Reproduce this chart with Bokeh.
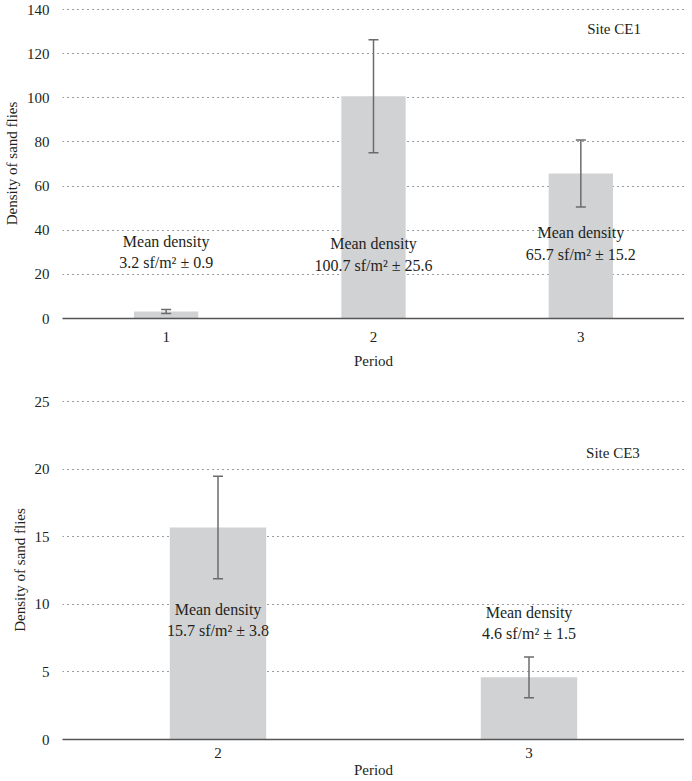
from bokeh.plotting import figure
from bokeh.layouts import column
from bokeh.models import Range1d, FixedTicker, Whisker, TeeHead, ColumnDataSource
from bokeh.core.properties import value
from bokeh.embed import file_html
from bokeh.resources import INLINE

# ---- data ----
periods_ce1 = [1, 2, 3]
mean_ce1 = [3.2, 100.7, 65.7]
err_ce1 = [0.9, 25.6, 15.2]
yticks_ce1 = [0, 20, 40, 60, 80, 100, 120, 140]

periods_ce3 = [2, 3]
mean_ce3 = [15.7, 4.6]
err_ce3 = [3.8, 1.5]
yticks_ce3 = [0, 5, 10, 15, 20, 25]

site_ce1 = "Site CE1"
site_ce3 = "Site CE3"
x_title = "Period"
y_title = "Density of sand flies"

# annotation placement (data units)
label_y_ce1 = [30.1, 29.0, 34.0]
label_y_ce3 = [8.85, 8.6]

FONT = "Liberation Serif"
TXT = "#231f20"
BAR = "#d1d2d4"
ERR = "#6a6b6d"


def make(periods, means, errs, yticks, xr, y_end, label_y, site, site_xy,
         height, top, bottom):
    p = figure(width=684, height=height, output_backend="svg",
               toolbar_location=None, x_range=Range1d(*xr),
               y_range=Range1d(yticks[0], y_end),
               min_border_left=51, min_border_right=0,
               min_border_top=top, min_border_bottom=bottom)
    p.outline_line_color = None
    p.background_fill_color = "white"
    p.border_fill_color = "white"

    src = ColumnDataSource(dict(
        x=periods, m=means,
        upper=[m + e for m, e in zip(means, errs)],
        lower=[m - e for m, e in zip(means, errs)],
        ly=label_y,
        lab=[f"Mean density\n{m} sf/m\u00b2 \u00b1 {e}" for m, e in zip(means, errs)],
    ))
    p.vbar(x="x", top="m", bottom=0, width=0.31, source=src,
           fill_color=BAR, line_color=None)
    w = Whisker(source=src, base="x", upper="upper", lower="lower",
                line_color=ERR, line_width=1.5,
                upper_head=TeeHead(size=10, line_color=ERR, line_width=1.5),
                lower_head=TeeHead(size=10, line_color=ERR, line_width=1.5))
    w.level = "annotation"
    p.add_layout(w)
    p.text(x="x", y="ly", text="lab", source=src, text_align="center",
           text_baseline="middle", text_font=value(FONT),
           text_font_size="16px", text_color=TXT, text_line_height=1.25)
    p.text(x=[site_xy[0]], y=[site_xy[1]], text=[site], text_align="center",
           text_baseline="middle", text_font=value(FONT),
           text_font_size="15px", text_color=TXT)

    p.xaxis.ticker = FixedTicker(ticks=periods)
    p.yaxis.ticker = FixedTicker(ticks=yticks)
    p.xgrid.grid_line_color = None
    p.ygrid.grid_line_color = "#3a3a3a"
    p.ygrid.grid_line_dash = "1 4"
    p.ygrid.grid_line_width = 1

    for ax in (p.xaxis, p.yaxis):
        ax.major_tick_line_color = None
        ax.minor_tick_line_color = None
        ax.major_label_text_font = FONT
        ax.major_label_text_font_size = "15px"
        ax.major_label_text_color = TXT
        ax.axis_label_text_font = FONT
        ax.axis_label_text_font_size = "15px"
        ax.axis_label_text_font_style = "normal"
        ax.axis_label_text_color = TXT
    p.yaxis.axis_line_color = None
    p.yaxis.major_label_standoff = 7
    p.yaxis.axis_label = y_title
    p.yaxis.axis_label_standoff = 4
    p.xaxis.axis_line_color = "#555555"
    p.xaxis.axis_line_width = 1.5
    p.xaxis.major_label_standoff = 7
    p.xaxis.axis_label = x_title
    p.xaxis.axis_label_standoff = 8
    return p


p1 = make(periods_ce1, mean_ce1, err_ce1, yticks_ce1, (0.5, 3.5), 140.5,
          label_y_ce1, site_ce1, (3.16, 131), height=385, top=8, bottom=67)
p2 = make(periods_ce3, mean_ce3, err_ce3, yticks_ce3, (1.5, 3.5), 25.1,
          label_y_ce3, site_ce3, (3.27, 21.2), height=396, top=15, bottom=42)
p2.xaxis.major_label_standoff = 2
p2.xaxis.axis_label_standoff = 1

p = column(p1, p2, spacing=0)
open("out.html", "w").write(file_html(p, INLINE))
